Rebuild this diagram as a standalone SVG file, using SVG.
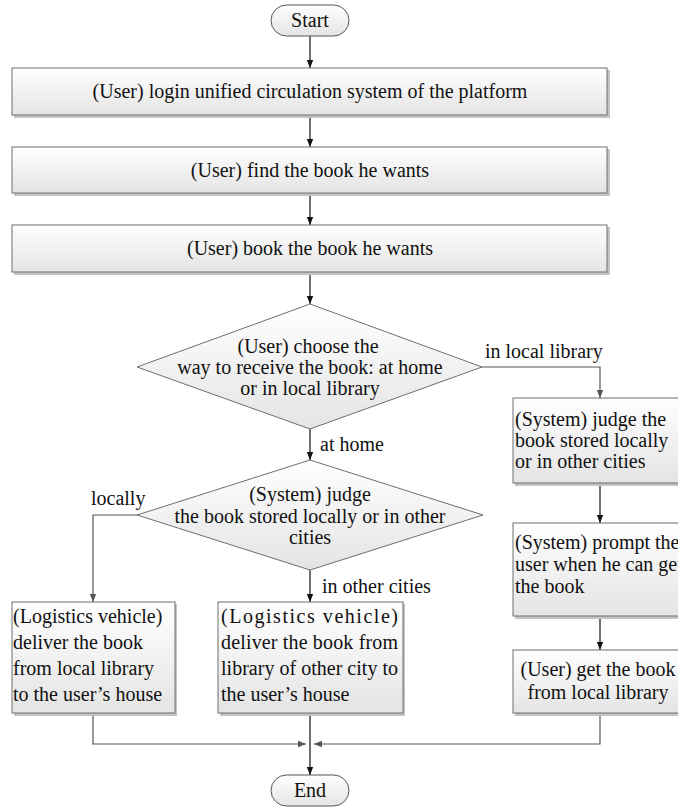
<svg xmlns="http://www.w3.org/2000/svg" width="678" height="807" viewBox="0 0 678 807">
<defs>
<linearGradient id="g" x1="0" y1="0" x2="0" y2="1">
<stop offset="0" stop-color="#ffffff"/>
<stop offset="1" stop-color="#e4e4e4"/>
</linearGradient>
<marker id="ab" markerWidth="8" markerHeight="8" refX="8" refY="4" orient="auto" markerUnits="userSpaceOnUse">
<path d="M0,0.8 L8,4 L0,7.2 Z" fill="#111"/>
</marker>
<marker id="ag" markerWidth="8" markerHeight="8" refX="8" refY="4" orient="auto" markerUnits="userSpaceOnUse">
<path d="M0,0.8 L8,4 L0,7.2 Z" fill="#555"/>
</marker>
</defs>
<style>
text{font-family:"Liberation Serif","Times New Roman",serif;font-size:20px;fill:#111}
.c{text-anchor:middle}
.box{fill:url(#g);stroke:#6e6e6e;stroke-width:1}
.sh{fill:#c4c4c4}
.k{fill:none;stroke:#111;stroke-width:1.2}
.y{fill:none;stroke:#555;stroke-width:1.2}
</style>
<rect width="678" height="807" fill="#ffffff"/>
<g id="connectors">
<path class="k" d="M310,36 V68" marker-end="url(#ab)"/>
<path class="k" d="M310,115 V147" marker-end="url(#ab)"/>
<path class="k" d="M310,193 V225" marker-end="url(#ab)"/>
<path class="k" d="M310,272 V304" marker-end="url(#ab)"/>
<path class="k" d="M310,429 V460" marker-end="url(#ab)"/>
<path class="y" d="M482,367 H600 V398" marker-end="url(#ag)"/>
<path class="k" d="M600,483 V523" marker-end="url(#ab)"/>
<path class="k" d="M600,616 V650" marker-end="url(#ab)"/>
<path class="y" d="M137,515 H93 V602" marker-end="url(#ag)"/>
<path class="k" d="M310,570 V602" marker-end="url(#ab)"/>
<path class="y" d="M93,713 V744 H306" marker-end="url(#ag)"/>
<path class="y" d="M600,713 V744 H314" marker-end="url(#ag)"/>
<path class="k" d="M310,713 V775" marker-end="url(#ab)"/>
<text x="485" y="358">in local library</text>
<text x="320" y="451">at home</text>
<text x="91" y="505">locally</text>
<text x="322" y="593">in other cities</text>
</g>
<g id="start">
<rect x="271" y="5" width="78" height="31" rx="15.5" fill="url(#g)" stroke="#555"/>
<text class="c" x="310" y="27">Start</text>
</g>
<g id="login">
<rect class="sh" x="14" y="70" width="596" height="48"/>
<rect class="box" x="12" y="68" width="595" height="47"/>
<text class="c" x="310" y="98">(User) login unified circulation system of the platform</text>
</g>
<g id="find">
<rect class="sh" x="14" y="149" width="596" height="47"/>
<rect class="box" x="12" y="147" width="595" height="46"/>
<text class="c" x="310" y="177">(User) find the book he wants</text>
</g>
<g id="bookit">
<rect class="sh" x="14" y="227" width="596" height="48"/>
<rect class="box" x="12" y="225" width="595" height="47"/>
<text class="c" x="310" y="255">(User) book the book he wants</text>
</g>
<g id="choose">
<polygon points="310,304 482,367 310,429 137,367" fill="url(#g)" stroke="#6e6e6e"/>
<text class="c" x="308" y="353">(User) choose the</text>
<text class="c" x="310" y="374">way to receive the book: at home</text>
<text class="c" x="310" y="395">or in local library</text>
</g>
<g id="judge2">
<polygon points="310,460 483,515 310,570 137,515" fill="url(#g)" stroke="#6e6e6e"/>
<text class="c" x="310" y="501">(System) judge</text>
<text class="c" x="310" y="523">the book stored locally or in other</text>
<text class="c" x="310" y="544">cities</text>
</g>
<g id="judge1">
<rect class="sh" x="515" y="400" width="175" height="86"/>
<rect class="box" x="513" y="398" width="175" height="85"/>
<text x="515" y="426">(System) judge the</text>
<text x="515" y="447">book stored locally</text>
<text x="515" y="468">or in other cities</text>
</g>
<g id="prompt">
<rect class="sh" x="515" y="525" width="175" height="94"/>
<rect class="box" x="513" y="523" width="175" height="93"/>
<text x="515" y="549">(System) prompt the</text>
<text x="515" y="571">user when he can get</text>
<text x="515" y="593">the book</text>
</g>
<g id="getbook">
<rect class="sh" x="515" y="652" width="175" height="64"/>
<rect class="box" x="513" y="650" width="175" height="63"/>
<text class="c" x="598" y="676">(User) get the book</text>
<text class="c" x="598" y="699">from local library</text>
</g>
<g id="deliverlocal">
<rect class="sh" x="14" y="604" width="163" height="112"/>
<rect class="box" x="12" y="602" width="163" height="111"/>
<text x="13" y="623">(Logistics vehicle)</text>
<text x="13" y="649">deliver the book</text>
<text x="13" y="675">from local library</text>
<text x="13" y="701">to the user’s house</text>
</g>
<g id="deliverother">
<rect class="sh" x="220" y="604" width="185" height="112"/>
<rect class="box" x="218" y="602" width="185" height="111"/>
<text x="221" y="623" textLength="177" lengthAdjust="spacing">(Logistics vehicle)</text>
<text x="221" y="649" textLength="177" lengthAdjust="spacing">deliver the book from</text>
<text x="221" y="675" textLength="177" lengthAdjust="spacing">library of other city to</text>
<text x="221" y="701">the user’s house</text>
</g>
<g id="end">
<rect x="271" y="775" width="78" height="31" rx="15.5" fill="url(#g)" stroke="#555"/>
<text class="c" x="310" y="797">End</text>
</g>
</svg>
